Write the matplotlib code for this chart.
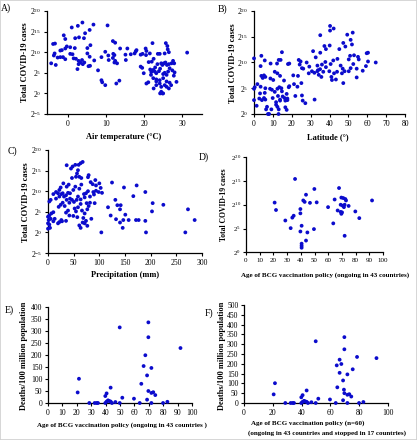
import matplotlib
matplotlib.use('Agg')
import matplotlib.pyplot as plt
from matplotlib.ticker import NullLocator
from matplotlib.patches import Rectangle

plt.rcParams.update({
    'font.family': ['Liberation Serif', 'DejaVu Serif'],
    'mathtext.fontset': 'custom',
    'mathtext.rm': 'Liberation Serif',
    'mathtext.it': 'Liberation Serif:italic',
    'mathtext.bf': 'Liberation Serif:bold',
})

# ---------------- data ----------------
# A) air temperature (°C) vs log2(total cases)
temp_A = [1.0, 2.6, 3.8, 6.7, 10.4, 5.7, 4.5, 4.2, 2.9, -1.1,
          -0.7, 1.9, -3.4, -3.9, 11.8, 12.4, 5.9, 5.1, -0.3, -0.7,
          0.6, 1.8, -1.6, -2.0, -3.5, -3.7, -2.7, -2.0, -1.3, -0.7,
          0.6, 1.2, 1.5, 2.1, 2.8, 3.2, 3.7, 4.3, 3.9, 2.8,
          -3.2, -4.4, 2.5, 5.1, 5.7, 5.8, 5.4, 6.9, 7.9, 8.8,
          9.8, 10.6, 10.7, 11.9, 12.2, 11.8, 12.4, 12.9, 12.2, 13.7,
          15.1, 15.6, 15.2, 16.5, 17.5, 17.8, 18.0, 19.1, 19.6, 20.4,
          20.6, 22.2, 21.5, 20.5, 8.8, 9.0, 9.8, 12.7, 13.5, 31.3,
          25.7, 26.1, 26.2, 26.5, 25.4, 24.1, 23.6, 22.5, 22.0, 21.2,
          19.1, 19.5, 19.9, 21.6, 21.9, 22.9, 23.5, 24.5, 24.8, 25.2,
          25.6, 26.0, 26.5, 27.2, 27.6, 27.9, 28.0, 28.5, 27.8, 27.4,
          26.7, 26.3, 25.9, 25.4, 25.0, 24.2, 23.9, 23.2, 22.8, 22.4,
          21.8, 22.4, 23.2, 24.1, 25.0, 25.9, 26.7, 27.1, 26.5, 25.9,
          25.4, 24.5, 24.1, 23.2, 22.5, 24.5, 25.0, 23.2, 21.1, 20.6,
          24.2, 24.8]
log2_cases_A = [16.0, 16.4, 17.2, 16.7, 16.5, 15.4, 14.6, 13.4, 13.6, 14.1,
                13.2, 13.4, 12.1, 12.0, 12.7, 12.3, 11.7, 11.0, 11.4, 10.9,
                11.2, 11.0, 10.5, 10.4, 9.7, 9.2, 8.7, 8.8, 8.8, 8.3,
                9.6, 9.5, 8.5, 8.4, 7.9, 7.5, 8.1, 7.5, 7.1, 7.1,
                6.9, 7.3, 5.9, 9.7, 8.9, 6.7, 6.6, 8.0, 5.6, 8.8,
                10.1, 9.2, 8.1, 9.6, 9.3, 8.6, 7.9, 7.3, 7.5, 10.9,
                9.4, 10.9, 8.1, 9.5, 9.7, 10.2, 10.5, 9.4, 9.6, 10.9,
                10.3, 12.2, 9.7, 9.3, 3.2, 2.7, 2.0, 2.4, 3.1, 9.9,
                12.2, 11.5, 10.7, 10.0, 9.7, 9.6, 9.6, 8.4, 7.7, 7.6,
                6.5, 6.2, 4.9, 5.8, 5.2, 6.3, 7.1, 7.3, 6.9, 7.3,
                7.5, 6.9, 7.1, 7.3, 7.9, 7.3, 5.1, 2.8, 4.3, 5.6,
                6.1, 5.3, 4.5, 5.0, 4.7, 6.0, 5.4, 4.9, 5.3, 5.7,
                4.5, 3.7, 3.4, 3.2, 3.7, 2.9, 2.6, 2.0, 1.2, 1.6,
                2.0, 1.6, 2.4, 2.0, 1.2, 0.4, 0.0, 2.9, 2.7, 2.4,
                0.0, 0.0]

# B) latitude (°) vs log2(total cases)
lat_B = [40.3, 42.2, 40.3, 35.1, 49.4, 52.3, 51.2, 51.9, 47.3, 48.4,
         45.2, 40.1, 37.3, 38.1, 31.3, 35.1, 32.7, 14.8, 3.9, 5.7,
         0.0, 8.8, 12.2, 13.1, 14.1, 18.0, 18.7, 23.7, 24.7, 27.9,
         26.1, 29.3, 32.0, 33.9, 33.6, 36.0, 37.8, 40.6, 42.0, 44.2,
         45.9, 48.0, 47.0, 50.2, 50.9, 53.0, 55.1, 55.5, 52.6, 51.2,
         50.2, 46.6, 44.0, 42.4, 41.0, 41.3, 43.4, 39.9, 38.1, 36.7,
         35.0, 35.7, 34.3, 33.6, 30.7, 29.0, 25.4, 24.2, 23.3, 20.8,
         25.1, 47.3, 54.4, 57.6, 54.4, 59.7, 60.4, 60.4, 59.3, 64.5,
         3.5, 3.9, 4.6, 5.3, 6.0, 8.7, 10.2, 11.0, 12.4, 13.8,
         15.9, 8.5, 9.5, 11.0, 12.4, 13.4, 14.5, 14.8, 6.0, 5.7,
         3.5, 3.2, 0.4, 0.0, 2.8, 4.2, 5.3, 6.0, 9.9, 11.7,
         12.7, 13.8, 15.2, 16.2, 16.6, 17.7, 17.3, 18.4, 17.7, 11.7,
         12.4, 13.8, 16.6, 17.3, 9.2, 6.4, 1.4, 0.0, 7.4, 21.9,
         25.4, 25.8, 27.2, 32.1, 1.8, 18.7, 21.2, 23.0, 6.9, 13.1,
         8.0, 13.0]
log2_cases_B = [17.1, 16.6, 16.2, 15.3, 15.4, 15.8, 14.4, 13.5, 13.8, 13.1,
                12.6, 13.3, 13.2, 12.6, 12.2, 11.9, 11.0, 12.0, 11.3, 10.4,
                10.8, 9.8, 9.8, 10.5, 10.5, 9.7, 9.8, 10.5, 10.2, 10.0,
                8.8, 9.2, 8.0, 8.5, 9.4, 9.6, 10.1, 9.7, 10.4, 10.7,
                9.4, 8.3, 8.8, 10.6, 11.3, 11.4, 11.1, 10.6, 9.7, 8.9,
                8.3, 7.9, 8.2, 7.9, 7.2, 6.6, 6.7, 8.3, 9.1, 8.2,
                8.7, 7.2, 7.6, 8.3, 8.3, 7.9, 8.9, 9.6, 7.4, 7.5,
                6.0, 6.0, 7.1, 8.4, 8.8, 11.8, 11.9, 10.2, 9.3, 10.0,
                9.3, 7.4, 7.0, 7.5, 7.2, 6.9, 6.6, 8.2, 7.9, 7.4,
                6.5, 4.9, 4.7, 4.3, 4.9, 5.2, 5.0, 4.4, 5.0, 4.1,
                5.3, 4.0, 5.2, 4.9, 3.0, 2.7, 3.1, 2.8, 3.1, 2.3,
                3.5, 2.8, 3.4, 3.1, 2.6, 2.7, 3.9, 5.2, 3.0, 1.8,
                1.4, 2.6, 1.3, 0.8, 0.9, 0.9, 1.6, 2.7, 0.0, 3.5,
                3.6, 2.6, 2.1, 2.8, 5.8, 5.4, 5.8, 5.3, 1.4, 0.9,
                0.0, 0.0]

# C) precipitation (mm) vs log2(total cases)
precip_C = [67.5, 63.6, 59.7, 53.2, 48.0, 44.8, 36.4, 58.4, 56.5, 54.5,
            61.0, 64.9, 46.7, 79.2, 77.9, 92.2, 83.1, 87.0, 100.0, 93.5,
            88.3, 77.9, 64.9, 61.0, 53.2, 49.3, 40.3, 36.4, 29.9, 24.7,
            22.1, 19.5, 15.6, 10.4, 5.2, 2.6, 15.6, 22.1, 26.0, 28.6,
            31.2, 35.1, 39.0, 42.9, 42.9, 46.7, 36.4, 28.6, 24.7, 20.8,
            32.5, 41.6, 50.6, 55.8, 58.4, 63.6, 70.1, 71.4, 74.0, 81.8,
            89.6, 93.5, 98.7, 102.6, 105.2, 81.8, 75.3, 63.6, 58.4, 51.9,
            54.5, 66.2, 76.6, 79.2, 90.9, 71.4, 68.8, 74.0, 76.6, 71.4,
            67.5, 61.0, 63.6, 84.4, 57.1, 49.3, 41.6, 39.0, 35.1, 35.1,
            26.0, 22.1, 19.5, 27.3, 10.4, 6.5, 2.6, 0.0, 1.3, 0.0,
            2.6, 3.9, 0.0, 10.4, 13.0, 5.2, 124.7, 148.0, 172.7, 166.2,
            189.6, 131.2, 135.1, 141.6, 116.9, 140.3, 203.9, 224.7, 202.6, 272.7,
            122.1, 132.5, 140.3, 146.7, 150.6, 157.1, 171.4, 176.6, 189.6, 145.5,
            103.9, 190.9, 267.5, 285.7]
log2_cases_C = [17.1, 16.8, 16.4, 16.4, 16.0, 15.5, 16.3, 15.1, 14.3, 13.5,
                13.5, 13.2, 13.2, 13.9, 13.4, 12.7, 12.2, 11.7, 11.9, 11.4,
                9.8, 10.0, 11.6, 10.6, 11.1, 10.3, 11.6, 11.1, 11.9, 10.9,
                10.3, 9.5, 9.8, 9.3, 7.9, 7.5, 8.2, 8.7, 9.3, 9.5,
                8.7, 9.0, 9.6, 9.5, 8.2, 7.9, 7.9, 7.2, 6.7, 6.2,
                6.4, 7.2, 7.4, 7.9, 8.7, 8.0, 9.3, 8.5, 9.5, 8.7,
                9.2, 10.1, 9.8, 10.8, 9.6, 7.2, 7.1, 6.9, 6.1, 5.8,
                5.1, 5.3, 5.6, 6.4, 7.1, 4.6, 3.5, 2.8, 1.6, 2.2,
                2.4, 1.7, 1.1, 3.3, 3.7, 4.0, 4.1, 5.3, 4.8, 2.8,
                3.0, 2.5, 2.2, 2.7, 4.9, 4.6, 4.1, 3.8, 3.0, 2.2,
                1.9, 1.1, 0.9, 2.7, 3.3, 3.3, 12.1, 10.9, 11.4, 8.8,
                9.8, 7.9, 6.6, 6.6, 6.1, 5.6, 7.1, 6.7, 5.1, 5.6,
                4.1, 3.2, 2.4, 3.0, 4.3, 3.0, 3.0, 3.0, 2.8, 1.1,
                0.0, 0.0, 0.0, 3.0]

# D) age of BCG policy (ongoing) vs log2(total cases)
bcg_age_D = [35.8, 49.9, 43.8, 41.8, 42.8, 46.7, 51.6, 20.9, 21.9, 39.7,
             39.7, 34.8, 33.8, 28.7, 32.6, 40.6, 39.7, 44.8, 49.6, 43.8,
             40.6, 40.6, 40.6, 59.9, 63.7, 64.7, 67.9, 66.9, 69.1, 69.6,
             70.1, 69.6, 71.0, 72.5, 73.0, 69.1, 70.6, 72.0, 71.5, 74.9,
             72.0, 79.8, 82.7, 92.0]
log2_cases_D = [15.4, 13.3, 12.1, 10.9, 10.6, 10.4, 10.5, 10.45, 8.9, 9.1,
                8.2, 7.7, 7.3, 6.7, 5.1, 5.6, 4.4, 4.2, 4.9, 2.5,
                1.85, 1.4, 1.0, 9.5, 6.1, 11.1, 13.5, 8.8, 8.5, 8.1,
                8.4, 11.5, 11.4, 11.2, 10.9, 10.0, 9.8, 10.0, 9.5, 9.75,
                3.5, 8.6, 7.2, 10.9]

# E) age of BCG policy (ongoing) vs deaths / 100 million
bcg_age_E = [69.7, 49.8, 69.7, 67.6, 66.4, 71.8, 68.8, 21.5, 20.6, 43.5,
             64.8, 69.7, 71.8, 73.1, 74.5, 40.7, 39.8, 68.8, 51.6, 59.7,
             28.7, 32.4, 33.8, 34.7, 39.8, 40.7, 41.7, 42.6, 43.5, 44.4,
             46.8, 49.8, 63.7, 71.8, 79.9, 82.9, 92.0]
deaths_E = [336, 315, 274, 199, 154, 146, 115, 101, 44, 64,
            80, 50, 42, 45, 33, 40, 29, 14, 22, 18,
            0, 0, 0, 0, 0, 6, 11, 8, 6, 0,
            4, 0, 0, 0, 0, 5, 229]

# F) additional countries where BCG policy stopped
bcg_age_stopped = [78.5, 66.4, 64.4, 75.5, 69.4]
deaths_stopped = [235, 221, 192, 172, 68]

# ---------------- figure ----------------
W, H = 417, 440
fig = plt.figure(figsize=(W / 100, H / 100), dpi=100)
DOT = '#0b0bcc'


def add_ax(x0, x1, ytop, ybot):
    return fig.add_axes([x0 / W, 1 - ybot / H, (x1 - x0) / W, (ybot - ytop) / H])


def style(ax, ls=5.5):
    for s in ('top', 'right'):
        ax.spines[s].set_visible(False)
    for s in ('left', 'bottom'):
        ax.spines[s].set_linewidth(0.9)
    ax.tick_params(direction='out', length=2.5, width=0.8, labelsize=ls, pad=1.5)
    ax.tick_params(which='minor', length=0)


def log2_axis(ax, lo, hi):
    ax.set_yscale('log', base=2)
    ax.set_ylim(2.0 ** lo, 2.0 ** hi)
    ks = list(range(lo, hi + 1, 5))
    ax.set_yticks([2.0 ** k for k in ks])
    ax.set_yticklabels([f'$2^{{{k}}}$' for k in ks])
    ax.yaxis.set_minor_locator(NullLocator())


def txt(x, y, s, **kw):
    fig.text(x / W, 1 - y / H, s, ha='center', va='center', **kw)


def scat(ax, x, y):
    ax.scatter(x, y, s=7.5, color=DOT, edgecolors='none', clip_on=False, zorder=3)


# A
ax = add_ax(47, 202, 11, 114)
style(ax)
log2_axis(ax, -5, 20)
scat(ax, temp_A, [2.0 ** v for v in log2_cases_A])
ax.set_xlim(-5.5, 35.2)
ax.set_xticks([0, 10, 20, 30])

# B
ax = add_ax(254, 405, 11, 114)
style(ax)
log2_axis(ax, 0, 20)
scat(ax, lat_B, [2.0 ** v for v in log2_cases_B])
ax.set_xlim(0, 80)
ax.set_xticks(range(0, 81, 10))

# C
ax = add_ax(48, 202, 150, 253)
style(ax)
log2_axis(ax, -5, 20)
scat(ax, precip_C, [2.0 ** v for v in log2_cases_C])
ax.set_xlim(0, 300)
ax.set_xticks(range(0, 301, 50))

# D
ax = add_ax(246, 383, 157, 252.5)
style(ax, ls=5)
ax.tick_params(axis='y', pad=1)
log2_axis(ax, 0, 20)
scat(ax, bcg_age_D, [2.0 ** v for v in log2_cases_D])
ax.set_xlim(0, 100)
ax.set_xticks(range(0, 101, 10))

# E
ax = add_ax(48, 192, 307, 403)
style(ax)
scat(ax, bcg_age_E, deaths_E)
ax.set_xlim(0, 100)
ax.set_ylim(0, 400)
ax.set_xticks(range(0, 101, 10))
ax.set_yticks(range(0, 401, 50))

# F
ax = add_ax(244, 388, 305, 403)
style(ax)
scat(ax, bcg_age_E + bcg_age_stopped, deaths_E + deaths_stopped)
ax.set_xlim(0, 100)
ax.set_ylim(0, 500)
ax.set_xticks(range(0, 101, 20))
ax.set_yticks(range(0, 501, 50))

# axis titles
lab = dict(fontweight='bold')
txt(25, 62, 'Total COVID-19 cases', rotation=90, fontsize=6, **lab)
txt(124, 137, 'Air temperature (°C)', fontsize=6, **lab)
txt(233, 63, 'Total COVID-19 cases', rotation=90, fontsize=6, **lab)
txt(328, 137, 'Latitude (°)', fontsize=6, **lab)
txt(26, 202, 'Total COVID-19 cases', rotation=90, fontsize=6, **lab)
txt(125, 275, 'Precipitation (mm)', fontsize=6, **lab)
txt(224, 205, 'Total COVID-19 cases', rotation=90, fontsize=5.5, **lab)
txt(325, 275, 'Age of BCG vaccination policy (ongoing in 43 countries)', fontsize=5, **lab)
txt(24, 356, 'Deaths/100 million population', rotation=90, fontsize=6, **lab)
txt(122, 425, 'Age of BCG vaccination policy (ongoing in 43 countries )', fontsize=5, **lab)
txt(222, 356, 'Deaths/100 million population', rotation=90, fontsize=6, **lab)
txt(308, 423, 'Age of BCG vaccination policy (n=60)', fontsize=5, **lab)
txt(327, 433, '(ongoing in 43 countries and stopped in 17 countries)', fontsize=5, **lab)

# panel letters
for x, y, s in [(6, 8, 'A)'), (222, 9, 'B)'), (12, 151, 'C)'), (204, 157, 'D)'),
                (9, 310, 'E)'), (209, 313, 'F)')]:
    txt(x, y, s, fontsize=7)

fig.patches.append(Rectangle((0, 0), 1, 1, transform=fig.transFigure, fill=False,
                             edgecolor='#d0d0d0', linewidth=1.2))

fig.savefig('out.png', dpi=100)
